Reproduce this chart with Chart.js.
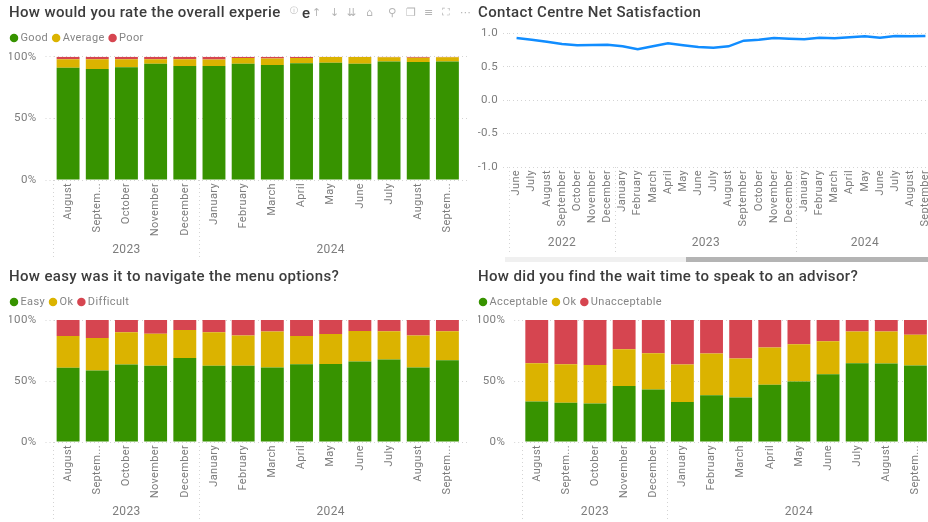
<!DOCTYPE html>
<html><head><meta charset="utf-8">
<script src="https://cdn.jsdelivr.net/npm/chart.js@4"></script>
<style>
html,body{margin:0;padding:0;background:#fff;width:928px;height:522px;overflow:hidden}
#wrap{position:relative;width:928px;height:522px;overflow:hidden;filter:blur(.45px)}
canvas{position:absolute}
.t{position:absolute;font-family:"DejaVu Sans",sans-serif;color:#b5b5b5;font-size:11px;line-height:14px;white-space:nowrap}
.bar{position:absolute}
</style></head><body><div id="wrap">
<canvas id="c1" style="left:9px;top:4px" width="461" height="256"></canvas>
<canvas id="c2" style="left:478px;top:4px" width="455" height="253"></canvas>
<canvas id="c3" style="left:9px;top:268px" width="461" height="254"></canvas>
<canvas id="c4" style="left:478px;top:268px" width="460" height="254"></canvas>
<div class="bar" style="left:505px;top:257px;width:181px;height:5px;background:#f0f0f0"></div>
<div class="bar" style="left:686px;top:257px;width:242px;height:5px;background:#b4b4b4"></div>
<div class="t" style="left:290px;top:4px;font-size:8px">ⓘ</div>
<div class="t" style="left:302px;top:3px;font:500 15px Roboto;line-height:20px;color:#3a3a3a">e</div>
<div class="t" style="left:312px;top:6px">↑</div>
<div class="t" style="left:330px;top:6px">↓</div>
<div class="t" style="left:347px;top:6px">⇊</div>
<div class="t" style="left:366px;top:6px">⌂</div>
<div class="t" style="left:388px;top:6px">⚲</div>
<div class="t" style="left:406px;top:6px">❐</div>
<div class="t" style="left:424px;top:6px">≡</div>
<div class="t" style="left:442px;top:6px">⛶</div>
<div class="t" style="left:460px;top:6px">⋯</div>
</div>
<script>
const monthsShort = ["August","Septem...","October","November","December","January","February","March","April","May","June","July","August","Septem..."];
const monthsLine = ["June","July","August","September","October","November","December","January","February","March","April","May","June","July","August","September","October","November","December","January","February","March","April","May","June","July","August","September"];
const yearsShort = ["2023","2024"];
const yearCountsShort = [5,9];
const yearsLine = ["2022","2023","2024"];
const yearCountsLine = [7,12,9];

const good = [91,90,91.4,94.3,92.4,92.4,94.3,93.2,94.6,95.1,94.3,96.2,95.7,96.2];
const average = [7,8,6.6,3.7,5.6,5.4,4.7,5.3,4.4,4.6,5.4,3.4,3.5,3.4];
const poor = [2,2,2,2,2,2.2,1,1.5,1,0.3,0.3,0.4,0.8,0.4];

const easy = [60.8,58.6,63.5,62.4,68.9,62.4,62.4,61,63.8,64,65.9,67.6,61,67];
const easyOk = [26.1,26.7,26.4,26.4,22.9,27.5,24.8,29.5,23.1,24.6,25.1,23.1,26.2,23.7];
const difficult = [13.1,14.7,10.1,11.2,8.2,10.1,12.8,9.5,13.1,11.4,9,9.3,12.8,9.3];

const acceptable = [33.2,32.2,31.6,45.8,43,32.7,38.4,36.5,46.9,49.6,55.6,64.6,64.3,62.7];
const waitOk = [31.4,31.6,31.6,30.2,29.8,30.8,34.1,31.9,30.5,30.5,27,25.9,26.2,25.3];
const unacceptable = [35.4,36.2,36.8,24,27.2,36.5,27.5,31.6,22.6,19.9,17.4,9.5,9.5,12];

const netSatisfaction = [0.93,0.905,0.875,0.84,0.82,0.825,0.83,0.805,0.76,0.805,0.85,0.82,0.795,0.785,0.805,0.89,0.905,0.93,0.92,0.91,0.935,0.925,0.94,0.955,0.935,0.96,0.955,0.96];

const GREEN="#379300", YELLOW="#DBB300", RED="#D64550", BLUE="#118DFF";
const TICK="#7d7d7d", GRID="#d4d4d4", TITLE="#3c3c3c";
const FONT="Roboto";

const spacing = {
  id:"spacing",
  beforeUpdate(c){ c.ctx.letterSpacing="0.35px"; },
  beforeDraw(c){ c.ctx.letterSpacing="0.35px"; },
  afterLayout(c){ if(c.legend) c.legend.left -= 3; }
};

function yearCentres(counts){
  let s=0; return counts.map(n=>{const v=s+n/2; s+=n; return v;});
}
function boundaries(counts){
  let s=0; const o=[0]; counts.forEach(n=>{s+=n;o.push(s);}); return o;
}

function makeScales(g){
  const cs=yearCentres(g.counts), bs=boundaries(g.counts);
  const scales={
    x:{type:"category",labels:g.labels,offset:true,stacked:true,position:"bottom",
      border:{display:false},
      grid:{offset:true,drawOnChartArea:false,drawTicks:true,tickLength:g.sepLen,tickWidth:1,tickBorderDash:[1,3],
        tickColor:c=>bs.includes(c.index)?GRID:"rgba(0,0,0,0)"},
      ticks:{color:TICK,font:{family:FONT,size:11},minRotation:90,maxRotation:90,autoSkip:false,padding:3-g.sepLen},
      afterFit(s){s.height=g.monthH;}},
    yr:{type:"linear",position:"bottom",min:0,max:g.labels.length,offset:false,
      border:{display:false},grid:{display:false,drawTicks:false,offset:false},
      ticks:{color:TICK,font:{family:FONT,size:12},maxRotation:0,autoSkip:false,padding:1,
        callback:v=>{const i=cs.indexOf(v);return i<0?"":g.years[i];}},
      afterBuildTicks(s){s.ticks=cs.map(v=>({value:v}));},
      afterFit(s){s.height=g.yrH;}},
    sp:{type:"category",position:"top",labels:g.labels,border:{display:false},grid:{display:false},ticks:{display:false},
      afterFit(s){
        const used=(s.chart.titleBlock?s.chart.titleBlock.height:0)+(s.chart.legend?s.chart.legend.height:0);
        s.height=Math.max(0,g.plotTop-used);
      }},
    y:{type:"linear",position:"left",min:g.min,max:g.max,stacked:g.stacked,
      border:{display:false,dash:[1,3]},
      grid:{color:GRID,lineWidth:1,tickLength:g.tickLen,tickBorderDash:[1,3],tickColor:GRID},
      ticks:{color:TICK,font:{family:FONT,size:11.5},stepSize:g.step,padding:g.tickPad,callback:g.fmt},
      afterFit(s){s.width=g.yW;}}
  };
  if(g.rightTail){
    scales.yt={type:"linear",position:"right",min:g.min,max:g.max,
      border:{display:false},
      grid:{drawOnChartArea:false,color:GRID,tickLength:8,tickBorderDash:[1,3],tickColor:GRID},
      ticks:{display:false,stepSize:g.step},
      afterFit(s){s.width=8;}};
  }
  return scales;
}

function makeOptions(g){
  return {
    responsive:false,animation:false,devicePixelRatio:1,
    layout:{padding:0},
    plugins:{
      title:{display:true,text:g.title,align:"start",color:TITLE,font:{family:FONT,size:15,weight:"500"},padding:{top:0,bottom:g.legend?3.5:0}},
      legend:{display:!!g.legend,position:"top",align:"start",
        labels:{usePointStyle:true,pointStyle:"circle",boxWidth:2,boxHeight:6,padding:7,color:"#858585",font:{family:FONT,size:11}}},
      tooltip:{enabled:false}
    },
    scales:makeScales(g)
  };
}

function barDs(label,data,color){
  return {label,data,backgroundColor:color,borderWidth:0,barPercentage:0.785,categoryPercentage:1,pointStyle:"circle",stack:"s"};
}
const pct=v=>v+"%";
const baseBar={labels:monthsShort,counts:yearCountsShort,years:yearsShort,min:0,max:100,step:50,fmt:pct,stacked:true,tickLen:8,tickPad:9,legend:true,rightTail:true,monthH:62,yrH:18};

new Chart(document.getElementById("c1"),{type:"bar",plugins:[spacing],
  data:{labels:monthsShort,datasets:[barDs("Good",good,GREEN),barDs("Average",average,YELLOW),barDs("Poor",poor,RED)]},
  options:makeOptions({...baseBar,title:"How would you rate the overall experie",plotTop:52.7,sepLen:78,yW:44.5})});

new Chart(document.getElementById("c3"),{type:"bar",plugins:[spacing],
  data:{labels:monthsShort,datasets:[barDs("Easy",easy,GREEN),barDs("Ok",easyOk,YELLOW),barDs("Difficult",difficult,RED)]},
  options:makeOptions({...baseBar,title:"How easy was it to navigate the menu options?",plotTop:52,sepLen:80,yW:44.5})});

new Chart(document.getElementById("c4"),{type:"bar",plugins:[spacing],
  data:{labels:monthsShort,datasets:[barDs("Acceptable",acceptable,GREEN),barDs("Ok",waitOk,YELLOW),barDs("Unacceptable",unacceptable,RED)]},
  options:makeOptions({...baseBar,title:"How did you find the wait time to speak to an advisor?",plotTop:52,sepLen:80,yW:44.2})});

new Chart(document.getElementById("c2"),{type:"line",plugins:[spacing],
  data:{labels:monthsLine,datasets:[{label:"Net Satisfaction",data:netSatisfaction,borderColor:BLUE,borderWidth:2.5,pointRadius:0,tension:0,fill:false}]},
  options:makeOptions({labels:monthsLine,counts:yearCountsLine,years:yearsLine,min:-1,max:1,step:0.5,fmt:v=>v.toFixed(1),stacked:false,tickLen:6,tickPad:5,legend:false,rightTail:false,monthH:68,yrH:22,
    title:"Contact Centre Net Satisfaction",plotTop:29.3,sepLen:85,yW:31})});
</script></body></html>
